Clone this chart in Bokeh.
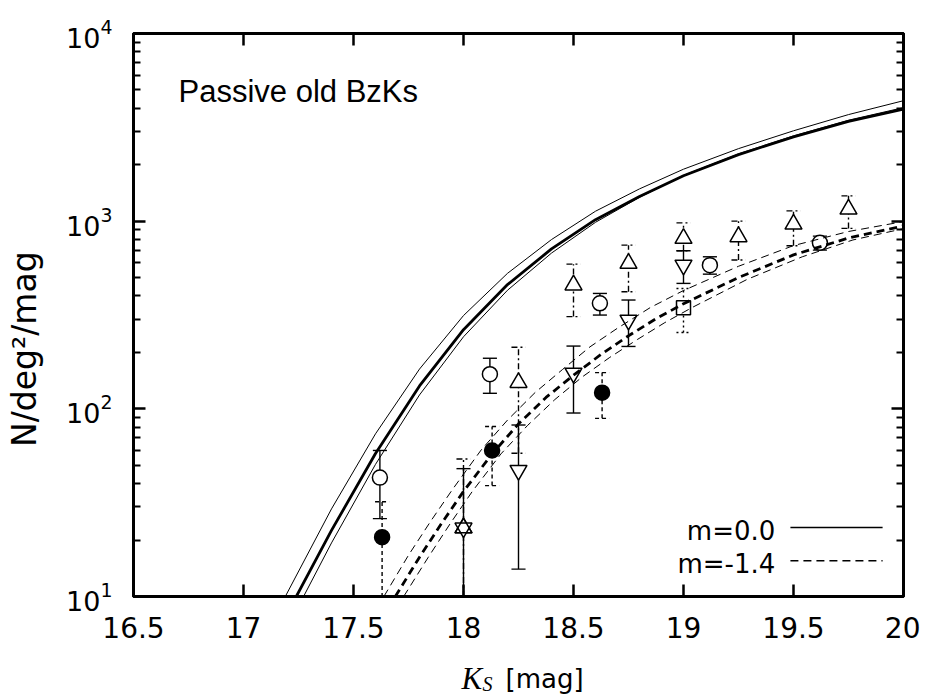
import numpy as np
from bokeh.plotting import figure
from bokeh.models import FixedTicker, Label, LinearAxis, LogAxis, Range1d
from bokeh.embed import file_html
from bokeh.resources import INLINE

# ---------------- data ----------------
x_ticks = [16.5, 17, 17.5, 18, 18.5, 19, 19.5, 20]
x_tick_labels = ["16.5", "17", "17.5", "18", "18.5", "19", "19.5", "20"]
y_ticks = [10, 100, 1000, 10000]

# model curves, m = 0.0 (solid): central + two bounds
m00_mid_x = [17.24, 17.40, 17.60, 17.80, 18.00, 18.20, 18.40, 18.60, 18.80, 19.00, 19.25, 19.50, 19.75, 20.00]
m00_mid_n = [10, 22.5, 57.8, 132.4, 264.2, 459.2, 711.2, 1018.6, 1355.2, 1746, 2262, 2815, 3404, 3954]
m00_hi_x = [17.19, 17.40, 17.60, 17.80, 18.00, 18.20, 18.40, 18.60, 18.80, 19.00, 19.25, 19.50, 19.75, 20.00]
m00_hi_n = [10, 29.3, 73.6, 162.9, 314.1, 527.2, 798.0, 1130, 1486, 1892, 2435, 3031, 3698, 4385]
m00_lo_x = [17.273, 17.40, 17.60, 17.80, 18.00, 18.20, 18.40, 18.60, 18.80, 19.00, 19.25, 19.50, 19.75, 20.00]
m00_lo_n = [10, 19.3, 50.6, 118.6, 242.1, 428.5, 676.1, 986.2, 1340, 1754, 2283, 2848, 3451, 4027]

# model curves, m = -1.4 (dashed)
m14_mid_x = [17.69, 17.80, 17.90, 18.00, 18.13, 18.25, 18.375, 18.50, 18.625, 18.75, 18.875, 19.00, 19.25, 19.50, 19.75, 20.00]
m14_mid_n = [10, 16.2, 24.5, 36.3, 57.5, 83.2, 115, 151, 195, 245, 302, 363, 501, 661, 813, 944]
m14_hi_x = [17.638, 17.75, 17.85, 17.95, 18.08, 18.20, 18.325, 18.45, 18.575, 18.70, 18.85, 19.00, 19.25, 19.50, 19.75, 20.00]
m14_hi_n = [10, 16.6, 25.1, 37.2, 60.3, 87.1, 122, 162, 214, 269, 347, 427, 575, 741, 881, 995]
m14_lo_x = [17.728, 17.84, 17.94, 18.04, 18.17, 18.29, 18.415, 18.54, 18.665, 18.79, 18.915, 19.04, 19.29, 19.54, 19.77, 20.00]
m14_lo_n = [10, 16.2, 24.5, 36.3, 57.5, 81.3, 112, 148, 188, 234, 288, 347, 490, 646, 794, 912]

# observed counts (value, lower, upper); lower < 10 runs off the axis
oc_x = [17.62, 18.12, 18.62, 19.12, 19.62]          # open circles
oc_y = [43, 153, 365, 583, 767]
oc_lo = [26, 121, 316, 522, 701]
oc_hi = [60, 186, 412, 646, 832]

fc_x = [17.63, 18.13, 18.63]                        # filled circles
fc_y = [20.7, 60, 122]
fc_lo = [5, 39, 89]
fc_hi = [32, 80.5, 156]

tu_x = [18.0, 18.25, 18.5, 18.75, 19.0, 19.25, 19.5, 19.75]   # triangles up
tu_y = [23.2, 138, 457, 596, 809, 826, 964, 1158]
tu_lo = [5, 58, 310, 421, 695, 621, 739, 915]
tu_hi = [54, 213, 590, 745, 979, 1000, 1135, 1364]

td_x = [18.0, 18.25, 18.5, 18.75, 19.0]             # triangles down
td_y = [23.2, 47, 155, 297, 583]
td_lo = [5, 14, 95, 215, 466]
td_hi = [48, 82, 216, 380, 695]

sq_x = [19.0]                                        # square
sq_y = [346]
sq_lo = [255]
sq_hi = [438]

legend_labels = ["m=0.0", "m=-1.4"]
title_text = "Passive old BzKs"
y_label = "N/deg\u00b2/mag"

# ---------------- figure ----------------
FONT = "DejaVu Sans"
p = figure(width=920, height=696, y_axis_type="log",
           x_range=Range1d(16.5, 20), y_range=Range1d(10, 1e4),
           output_backend="svg", toolbar_location=None,
           min_border_left=133, min_border_right=17,
           min_border_top=33, min_border_bottom=100)
p.xgrid.grid_line_color = None
p.ygrid.grid_line_color = None
p.outline_line_color = "black"
p.outline_line_width = 3
p.background_fill_color = "white"
p.border_fill_color = "white"

y_minor = [m * d for d in (10, 100, 1000) for m in range(2, 10)]


def style_axis(ax, hide_labels=False):
    ax.axis_line_width = 3
    ax.major_tick_in = 12
    ax.major_tick_out = 0
    ax.minor_tick_in = 7
    ax.minor_tick_out = 0
    ax.major_tick_line_width = 2.5
    ax.minor_tick_line_width = 2
    if hide_labels:
        ax.major_label_text_color = None
        ax.major_label_text_font_size = "1px"
        ax.major_label_standoff = 0


xa = p.xaxis[0]
xa.ticker = FixedTicker(ticks=x_ticks, minor_ticks=[])
xa.major_label_overrides = {t: s for t, s in zip(x_ticks, x_tick_labels)}
xa.major_label_text_font = FONT
xa.major_label_text_font_size = "28px"
xa.major_label_text_color = "black"
xa.major_label_standoff = 20
style_axis(xa)

ya = p.yaxis[0]
ya.ticker = FixedTicker(ticks=y_ticks, minor_ticks=y_minor)
ya.major_label_text_font = FONT
ya.major_label_text_font_size = "27px"
ya.major_label_text_color = "black"
ya.major_label_standoff = 21
style_axis(ya)

top = LinearAxis(ticker=FixedTicker(ticks=x_ticks, minor_ticks=[]))
style_axis(top, hide_labels=True)
p.add_layout(top, "above")
right = LogAxis(ticker=FixedTicker(ticks=y_ticks, minor_ticks=y_minor))
style_axis(right, hide_labels=True)
p.add_layout(right, "right")

# ---------------- error bars and markers ----------------
CW = 0.032  # half cap width (mag)


def errbars(xs, lo, hi, dash, lw=1.4):
    xs = np.asarray(xs, float)
    lo = np.asarray(lo, float)
    hi = np.asarray(hi, float)
    p.segment(x0=xs, y0=lo, x1=xs, y1=hi, line_color="black", line_width=lw, line_dash=dash)
    p.segment(x0=xs - CW, y0=hi, x1=xs + CW, y1=hi, line_color="black", line_width=lw, line_dash=dash)
    p.segment(x0=xs - CW, y0=lo, x1=xs + CW, y1=lo, line_color="black", line_width=lw, line_dash=dash)


errbars(oc_x, oc_lo, oc_hi, "solid")
errbars(fc_x, fc_lo, fc_hi, "4 3")
errbars(tu_x, tu_lo, tu_hi, "6 3 2 3")
errbars(td_x, td_lo, td_hi, "solid")
errbars(sq_x, sq_lo, sq_hi, "2 3")

mk = dict(line_color="black", line_width=1.5)
p.scatter(oc_x, oc_y, marker="circle", size=15, fill_color="white", **mk)
p.scatter(fc_x, fc_y, marker="circle", size=15, fill_color="black", **mk)
p.scatter(tu_x, tu_y, marker="triangle", size=17, fill_color="white", **mk)
p.scatter(td_x, td_y, marker="inverted_triangle", size=17, fill_color="white", **mk)
p.scatter(sq_x, sq_y, marker="square", size=14, fill_color="white", **mk)
# the hourglass at 18.0: both triangles visible
p.scatter(tu_x[:1], tu_y[:1], marker="triangle", size=17, fill_alpha=0, **mk)

# ---------------- model curves ----------------
p.line(m00_hi_x, m00_hi_n, line_color="black", line_width=1)
p.line(m00_lo_x, m00_lo_n, line_color="black", line_width=1)
p.line(m00_mid_x, m00_mid_n, line_color="black", line_width=2.8)
p.line(m14_hi_x, m14_hi_n, line_color="black", line_width=1, line_dash="8 5")
p.line(m14_lo_x, m14_lo_n, line_color="black", line_width=1, line_dash="8 5")
p.line(m14_mid_x, m14_mid_n, line_color="black", line_width=2.8, line_dash="8 5")

# ---------------- legend (text left, line right) ----------------
leg_y = [23.3, 15.5]
p.line([19.486, 19.905], [leg_y[0], leg_y[0]], line_color="black", line_width=1.6)
p.line([19.486, 19.905], [leg_y[1], leg_y[1]], line_color="black", line_width=1.6, line_dash="8 5")
for lab, yv in zip(legend_labels, leg_y):
    p.add_layout(Label(x=19.39, y=yv, x_offset=6, y_offset=-3, text=lab, text_font=FONT,
                       text_font_size="26px", text_align="right", text_baseline="middle",
                       text_color="black"))

# ---------------- texts ----------------
p.add_layout(Label(x=16.5, y=1e4, x_offset=45, y_offset=-58, text=title_text,
                   text_font="Liberation Sans", text_font_size="31px", text_align="left",
                   text_baseline="alphabetic", text_color="black"))

# texts outside the frame live in the side panels (not clipped to the frame)
p.add_layout(Label(x=16.5, y=208, x_offset=-109, text=y_label,
                   text_font=FONT, text_font_size="33px", text_align="center",
                   text_baseline="middle", angle=np.pi / 2, text_color="black"), "left")
p.add_layout(Label(x=16.5, y=10, x_offset=328, y_offset=-82, text="K",
                   text_font="Liberation Serif", text_font_style="italic",
                   text_font_size="31px", text_align="left", text_baseline="alphabetic",
                   text_color="black"), "left")
p.add_layout(Label(x=16.5, y=10, x_offset=349, y_offset=-87, text="S",
                   text_font="Liberation Serif", text_font_style="italic",
                   text_font_size="20px", text_align="left", text_baseline="alphabetic",
                   text_color="black"), "right")
p.add_layout(Label(x=16.5, y=10, x_offset=372, y_offset=-82, text="[mag]",
                   text_font=FONT, text_font_size="26px", text_align="left",
                   text_baseline="alphabetic", text_color="black"), "below")

open("out.html", "w").write(file_html(p, INLINE))
